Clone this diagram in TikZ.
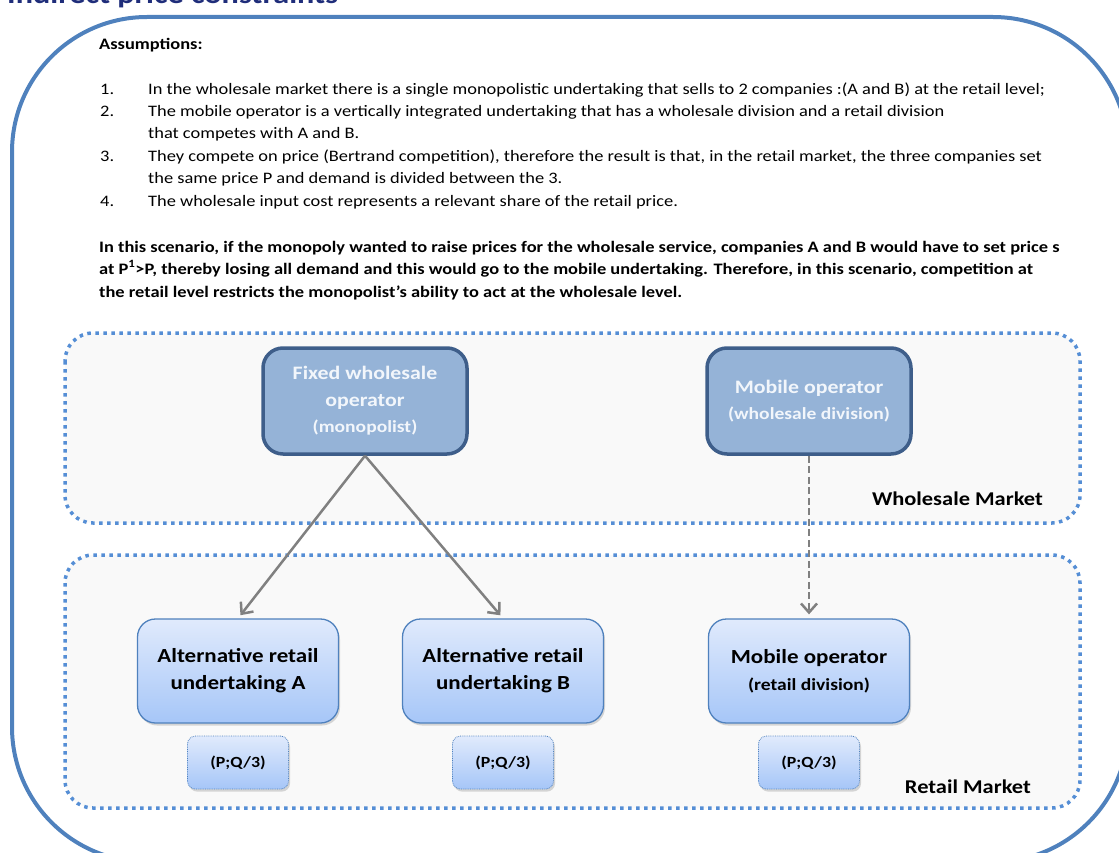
\documentclass[tikz,border=0pt]{standalone}
\usepackage{fontspec}
\setmainfont{Carlito}[FakeStretch=1.15]
\usetikzlibrary{arrows.meta,positioning,shadows}

\definecolor{framecol}{RGB}{79,129,189}
\definecolor{dotcol}{RGB}{85,142,213}
\definecolor{marketfill}{RGB}{249,249,249}
\definecolor{wsfill}{RGB}{149,179,215}
\definecolor{wsline}{RGB}{62,94,138}
\definecolor{wstext}{RGB}{242,246,251}
\definecolor{rtop}{RGB}{224,234,252}
\definecolor{rbottom}{RGB}{166,198,248}
\definecolor{arrowgray}{RGB}{128,128,128}
\definecolor{titlecol}{RGB}{31,45,122}

\tikzset{
  market/.style={draw=dotcol, line width=3.5pt, dash pattern=on 3.5pt off 4.5pt,
    fill=marketfill, rounded corners=28pt},
  wsbox/.style={draw=wsline, line width=3.5pt, fill=wsfill, rounded corners=20pt,
    minimum width=204pt, minimum height=106pt, align=center, text=wstext,
    font=\bfseries\fontsize{19}{26.5}\selectfont},
  rtbox/.style={draw=framecol, line width=1.3pt, top color=rtop, bottom color=rbottom,
    rounded corners=18pt, minimum width=201pt, minimum height=104pt, align=center,
    font=\bfseries\fontsize{20}{27}\selectfont,
    drop shadow={opacity=0.3, shadow xshift=1.5pt, shadow yshift=-2.5pt}},
  pqbox/.style={draw=framecol, densely dotted, line width=0.8pt, top color=rtop,
    bottom color=rbottom, rounded corners=8pt, minimum width=101pt, minimum height=53pt,
    font=\bfseries\fontsize{15.5}{18}\selectfont,
    drop shadow={opacity=0.3, shadow xshift=1.5pt, shadow yshift=-2.5pt}},
  supply/.style={draw=arrowgray, line width=2.5pt, shorten >=4pt,
    -{Straight Barb[length=9pt,width=16pt]}},
  body/.style={anchor=base west, inner sep=0pt, font=\fontsize{16}{20}\selectfont},
  bodybold/.style={body, font=\bfseries\fontsize{16}{20}\selectfont},
  marketlabel/.style={anchor=east, inner sep=0pt, font=\bfseries\fontsize{19.5}{24}\selectfont}
}

\begin{document}
\begin{tikzpicture}[x=1pt,y=-1pt]
  \useasboundingbox (0,0) rectangle (1119,853);

  % title, cut by the page edge
  \node[anchor=base west, inner sep=0pt, text=titlecol,
    font=\bfseries\fontsize{28}{30}\selectfont] (title) at (7,4) {Indirect price constraints};

  % outer frame
  \draw[framecol, line width=4pt, rounded corners=135pt] (12,17) rectangle (1128,862);

  % assumptions
  \node[bodybold] (assume) at (99,50) {Assumptions:};
  \node[body] (num1) at (100,95) {1.};
  \node[body] (item1) at (148,95) {In the wholesale market there is a single monopolistic undertaking that sells to 2 companies :(A and B) at the retail level;};
  \node[body] (num2) at (100,117) {2.};
  \node[body] (item2) at (148,117) {The mobile operator is a vertically integrated undertaking that has a wholesale division and a retail division};
  \node[body] (item2b) at (148,139) {that competes with A and B.};
  \node[body] (num3) at (100,162) {3.};
  \node[body] (item3) at (148,162) {They compete on price (Bertrand competition), therefore the result is that, in the retail market, the three companies set};
  \node[body] (item3b) at (148,184) {the same price P and demand is divided between the 3.};
  \node[body] (num4) at (100,207) {4.};
  \node[body] (item4) at (148,207) {The wholesale input cost represents a relevant share of the retail price.};

  % conclusion
  \node[bodybold] (concl1) at (99,252) {In this scenario, if the monopoly wanted to raise prices for the wholesale service, companies A and B would have to set price s};
  \node[bodybold] (concl2) at (99,274) {at P\textsuperscript{1}>P, thereby losing all demand and this would go to the mobile undertaking. Therefore, in this scenario, competition at};
  \node[bodybold] (concl3) at (99,297) {the retail level restricts the monopolist’s ability to act at the wholesale level.};

  % markets
  \draw[market] (65,333) rectangle (1080,523);
  \draw[market] (65,555) rectangle (1080,808);
  \node[marketlabel] (wslabel) at (1043,499) {Wholesale Market};
  \node[marketlabel] (rtlabel) at (1031,787) {Retail Market};

  % wholesale level
  \node[wsbox] (fixedws) at (365,401) {Fixed wholesale\\operator\\{\fontsize{17}{20}\selectfont(monopolist)}};
  \node[wsbox] (mobws) at (809,401) {Mobile operator\\{\fontsize{17}{20}\selectfont(wholesale division)}};

  % retail level
  \node[rtbox] (retA) at (238,671) {Alternative retail\\undertaking A};
  \node[rtbox] (retB) at (503,671) {Alternative retail\\undertaking B};
  \node[rtbox] (mobrt) at (809,671) {Mobile operator\\{\fontsize{17}{20}\selectfont(retail division)}};

  % price and share
  \node[pqbox, below=12pt of retA] (pqA) {(P;Q/3)};
  \node[pqbox, below=12pt of retB] (pqB) {(P;Q/3)};
  \node[pqbox, below=12pt of mobrt] (pqM) {(P;Q/3)};

  % supply arrows
  \draw[supply] (fixedws.south) -- (retA.north);
  \draw[supply] (fixedws.south) -- (retB.north);
  \draw[supply, dash pattern=on 7pt off 3.5pt] (mobws.south) -- (mobrt.north);

\end{tikzpicture}
\end{document}
